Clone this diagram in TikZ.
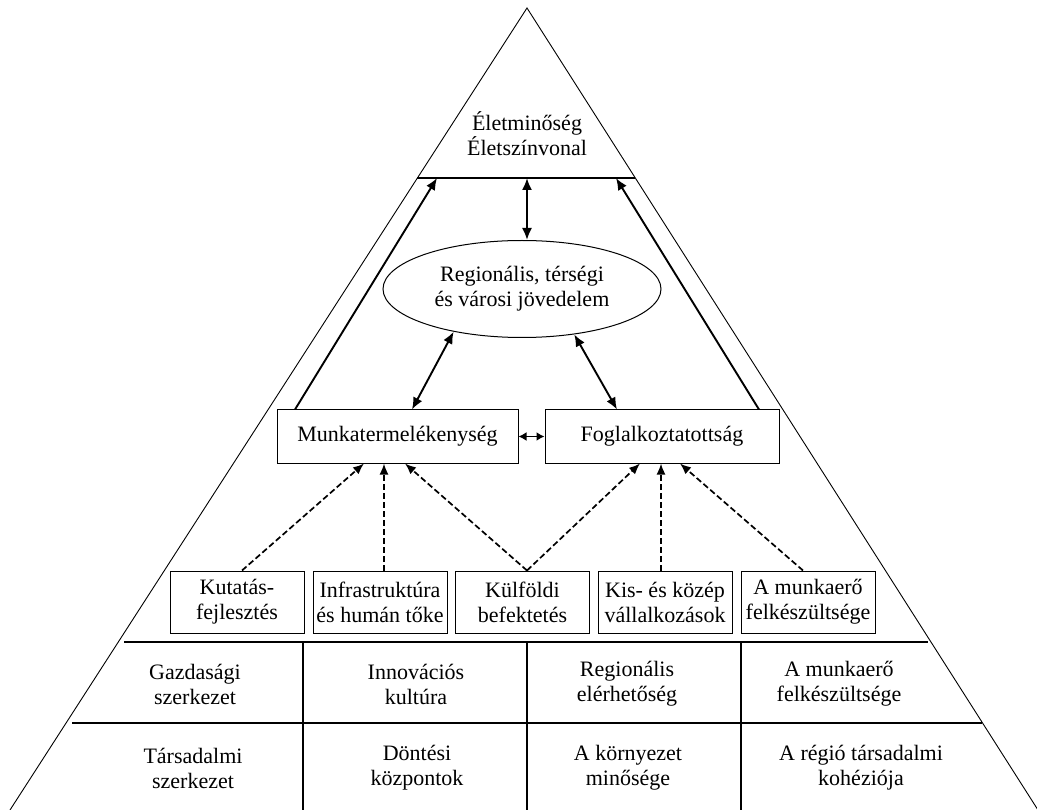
\documentclass[tikz,border=0pt]{standalone}
\usepackage{fontspec}
\setmainfont{Liberation Serif}
\usetikzlibrary{arrows.meta,shapes.geometric,calc}
\begin{document}
\begin{tikzpicture}[x=1pt,y=-1pt,
  lbl/.style={font=\fontsize{22}{25}\selectfont, align=center, inner sep=0pt},
  box/.style={draw, line width=1pt, inner sep=0pt, font=\fontsize{22}{25}\selectfont, align=center},
  smallbox/.style={box, minimum width=134pt, minimum height=62pt},
  bigbox/.style={box, minimum height=53pt},
  triline/.style={line width=0.9pt},
  gridline/.style={line width=1.1pt},
  solidarr/.style={line width=1.9pt, {Latex[length=12pt,width=10pt]}-{Latex[length=12pt,width=10pt]}},
  shortarr/.style={line width=1.9pt, {Latex[length=8pt,width=9pt]}-{Latex[length=8pt,width=9pt]}},
  onearr/.style={line width=1.9pt, -{Latex[length=12pt,width=10pt]}},
  dasharr/.style={line width=1.7pt, dash pattern=on 6pt off 3pt, -{Latex[length=11pt,width=9pt]}}
]
\useasboundingbox (0,0) rectangle (1037,810);

% pyramid outline
\coordinate (apex) at (527,8);
\coordinate (bl) at (10,810);
\coordinate (br) at (1038,810);
\draw[triline] (bl) -- (apex) -- (br);

% top section
\node[lbl] (top) at (527,134) {Életminőség\\Életszínvonal};
\coordinate (tl) at (417,178);
\coordinate (tr) at (635,178);
\draw[gridline] (tl) -- (tr);
\coordinate (ta) at (437,178);
\coordinate (tb) at (527,178);
\coordinate (tc) at (616,178);

% ellipse
\node[draw, ellipse, line width=1pt, minimum width=278pt, minimum height=97pt, lbl] (ell) at (522,289) {Regionális, térségi\\és városi jövedelem};

% middle boxes
\node[bigbox, minimum width=241pt] (mt) at (397.5,436.5) {Munkatermelékenység};
\node[bigbox, minimum width=234pt] (fg) at (662,436.5) {Foglalkoztatottság};

% lower boxes
\node[smallbox] (kut) at (237,602) {Kutatás-\\fejlesztés};
\node[smallbox] (inf) at (380,602) {Infrastruktúra\\és humán tőke};
\node[smallbox] (kul) at (522.5,602) {Külföldi\\befektetés};
\node[smallbox] (kis) at (665,602) {Kis- és közép\\vállalkozások};
\node[smallbox] (amk) at (808,602) {A munkaerő\\felkészültsége};

% grid at bottom
\coordinate (h1l) at (124,642);
\coordinate (h1r) at (928,642);
\coordinate (h2l) at (72,723);
\coordinate (h2r) at (982,723);
\draw[gridline] (h1l) -- (h1r);
\draw[gridline] (h2l) -- (h2r);
\coordinate (v1t) at (303,642); \coordinate (v1b) at (303,810);
\coordinate (v2t) at (527,642); \coordinate (v2b) at (527,810);
\coordinate (v3t) at (741,642); \coordinate (v3b) at (741,810);
\draw[gridline] (v1t) -- (v1b);
\draw[gridline] (v2t) -- (v2b);
\draw[gridline] (v3t) -- (v3b);

\node[lbl] (c11) at (195,684) {Gazdasági\\szerkezet};
\node[lbl] (c12) at (416,684) {Innovációs\\kultúra};
\node[lbl] (c13) at (627,684) {Regionális\\elérhetőség};
\node[lbl] (c14) at (839,684) {A munkaerő\\felkészültsége};
\node[lbl] (c21) at (193,768) {Társadalmi\\szerkezet};
\node[lbl] (c22) at (417,768) {Döntési\\központok};
\node[lbl] (c23) at (628,768) {A környezet\\minősége};
\node[lbl] (c24) at (861,768) {A régió társadalmi\\kohéziója};

% arrows
\draw[solidarr] (tb) -- (tb |- ell.north);
\draw[onearr] ([xshift=-102.5pt]mt.north) -- (ta);
\draw[onearr] ([xshift=97pt]fg.north) -- (tc);
\draw[solidarr] (ell.212) -- ([xshift=14.5pt]mt.north);
\draw[solidarr] (ell.319) -- ([xshift=-45pt]fg.north);
\draw[shortarr] (mt.east) -- (fg.west);

\draw[dasharr] ([xshift=5pt]kut.north) -- ([xshift=-33.5pt]mt.south);
\draw[dasharr] ([xshift=4pt]inf.north) -- ([xshift=-13.5pt]mt.south);
\draw[dasharr] ([xshift=4.5pt]kul.north) -- ([xshift=7.5pt]mt.south);
\draw[dasharr] ([xshift=4.5pt]kul.north) -- ([xshift=-22pt]fg.south);
\draw[dasharr] ([xshift=-4pt]kis.north) -- ([xshift=-1pt]fg.south);
\draw[dasharr] ([xshift=-5pt]amk.north) -- ([xshift=18pt]fg.south);
\end{tikzpicture}
\end{document}
